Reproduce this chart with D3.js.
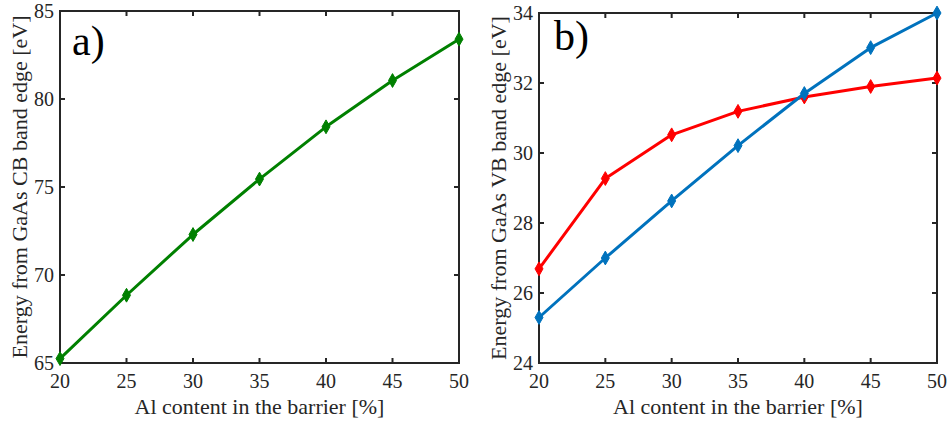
<!DOCTYPE html>
<html>
<head>
<meta charset="utf-8">
<script src="https://cdn.jsdelivr.net/npm/d3@7"></script>
</head>
<body style="margin:0">
<svg id="s" width="948" height="423"></svg>
<script>
// ---- data ----
const alContent = [20, 25, 30, 35, 40, 45, 50];
const cbEnergy = [65.25, 68.85, 72.3, 75.45, 78.42, 81.05, 83.4];
const vbRed = [26.69, 29.27, 30.52, 31.19, 31.6, 31.9, 32.14];
const vbBlue = [25.3, 27.0, 28.63, 30.21, 31.7, 33.01, 34.0];
const xTicks = [20, 25, 30, 35, 40, 45, 50];
const yTicksA = [65, 70, 75, 80, 85];
const yTicksB = [24, 26, 28, 30, 32, 34];
const xLabel = "Al content in the barrier [%]";
const yLabelA = "Energy from GaAs CB band edge [eV]";
const yLabelB = "Energy from GaAs VB band edge [eV]";

const FONT = "Liberation Serif";
const s = d3.select("#s");
const axisColor = "#262626";

function addText(x, y, size, str, anchor, extra) {
  const t = s.append("text").attr("x", x).attr("y", y).attr("font-size", size)
    .attr("font-family", FONT).attr("fill", axisColor)
    .attr("text-anchor", anchor || "start").text(str);
  if (extra) extra(t);
  return t;
}

function panel(cfg) {
  const x = d3.scaleLinear().domain([20, 50]).range([cfg.left, cfg.right]);
  const y = d3.scaleLinear().domain(cfg.yDomain).range([cfg.bottom, cfg.top]);
  const tickLen = 5;

  s.append("rect")
    .attr("x", cfg.left).attr("y", cfg.top)
    .attr("width", cfg.right - cfg.left).attr("height", cfg.bottom - cfg.top)
    .attr("fill", "none").attr("stroke", axisColor).attr("stroke-width", 2);

  xTicks.forEach(v => {
    s.append("line").attr("x1", x(v)).attr("x2", x(v))
      .attr("y1", cfg.bottom).attr("y2", cfg.bottom - tickLen)
      .attr("stroke", axisColor).attr("stroke-width", 2);
    s.append("line").attr("x1", x(v)).attr("x2", x(v))
      .attr("y1", cfg.top).attr("y2", cfg.top + tickLen)
      .attr("stroke", axisColor).attr("stroke-width", 2);
    addText(x(v), cfg.bottom + 25, 20, v, "middle");
  });
  cfg.yTicks.forEach(v => {
    s.append("line").attr("x1", cfg.left).attr("x2", cfg.left + tickLen)
      .attr("y1", y(v)).attr("y2", y(v))
      .attr("stroke", axisColor).attr("stroke-width", 2);
    s.append("line").attr("x1", cfg.right).attr("x2", cfg.right - tickLen)
      .attr("y1", y(v)).attr("y2", y(v))
      .attr("stroke", axisColor).attr("stroke-width", 2);
    addText(cfg.left - 6, y(v) + 7, 20, v, "end");
  });

  addText((cfg.left + cfg.right) / 2, 414, 22, xLabel, "middle");
  const cy = (cfg.top + cfg.bottom) / 2;
  addText(0, 0, 22, cfg.yLabel, "middle",
    t => t.attr("transform", `translate(${cfg.yLabelX},${cy}) rotate(-90)`));
  addText(cfg.letterX, cfg.letterY, 42, cfg.letter, "start", t => t.attr("fill", "#000"));

  const line = d3.line().x((d, i) => x(alContent[i])).y(d => y(d));
  const diamond = d3.symbol().type(d3.symbolDiamond).size(55);
  cfg.series.forEach(ser => {
    s.append("path").datum(ser.values)
      .attr("d", line).attr("fill", "none")
      .attr("stroke", ser.color).attr("stroke-width", 3)
      .attr("stroke-linejoin", "round");
    s.selectAll(null).data(ser.values).enter().append("path")
      .attr("d", diamond)
      .attr("transform", (d, i) => `translate(${x(alContent[i])},${y(d)})`)
      .attr("fill", ser.color).attr("stroke", ser.color).attr("stroke-width", 1);
  });
}

panel({
  left: 60, right: 459, top: 11, bottom: 363,
  yDomain: [65, 85], yTicks: yTicksA, yLabel: yLabelA, yLabelX: 27,
  letter: "a)", letterX: 72, letterY: 55,
  series: [{ values: cbEnergy, color: "#008000" }]
});

panel({
  left: 539, right: 937, top: 13, bottom: 363,
  yDomain: [24, 34], yTicks: yTicksB, yLabel: yLabelB, yLabelX: 506,
  letter: "b)", letterX: 554, letterY: 50,
  series: [
    { values: vbRed, color: "#FF0000" },
    { values: vbBlue, color: "#0072BD" }
  ]
});
</script>
</body>
</html>
